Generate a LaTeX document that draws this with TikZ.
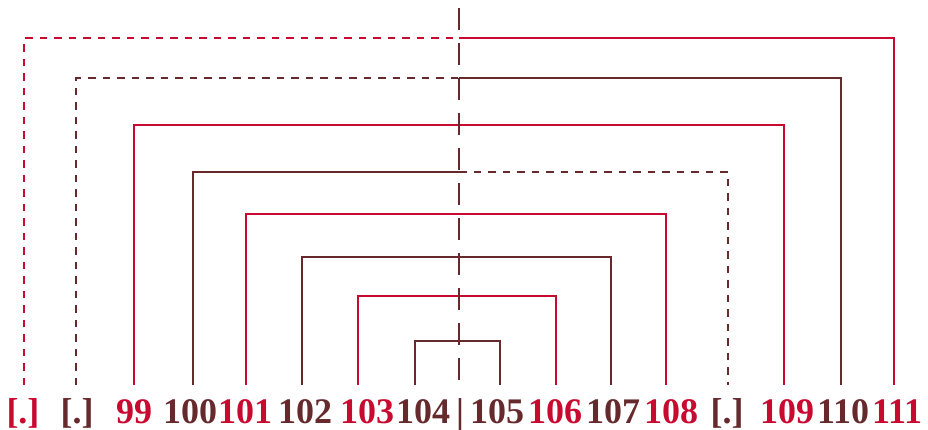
\documentclass[tikz,border=0pt]{standalone}
\usepackage{fontspec}
\setmainfont{Liberation Serif}
\definecolor{crim}{RGB}{200,10,48}
\definecolor{maroon}{RGB}{102,42,44}
\begin{document}
\begin{tikzpicture}[x=1pt,y=-1pt,
  arc/.style={line width=1.8pt, line join=miter, line cap=butt},
  dsh/.style={dash pattern=on 7.5pt off 7pt},
  axis/.style={line width=1.8pt, dash pattern=on 22pt off 13pt},
  lab/.style={font=\bfseries\fontsize{36}{36}\selectfont, anchor=base, inner sep=0pt}]
\useasboundingbox (0,0) rectangle (928,429);

% labels along the baseline
\node[lab, text=crim]   (s1)  at (23,423)  {[.]};
\node[lab, text=maroon] (s2)  at (77,423)  {[.]};
\node[lab, text=crim]   (n99)  at (134,423) {99};
\node[lab, text=maroon] (n100) at (190,423) {100};
\node[lab, text=crim]   (n101) at (245,423) {101};
\node[lab, text=maroon] (n102) at (305,423) {102};
\node[lab, text=crim]   (n103) at (367,423) {103};
\node[lab, text=maroon] (n104) at (423,423) {104};
\node[lab, text=maroon] (bar)  at (460,423) {|};
\node[lab, text=maroon] (n105) at (497,423) {105};
\node[lab, text=crim]   (n106) at (555,423) {106};
\node[lab, text=maroon] (n107) at (613,423) {107};
\node[lab, text=crim]   (n108) at (671,423) {108};
\node[lab, text=maroon] (s3)  at (727,423) {[.]};
\node[lab, text=crim]   (n109) at (787,423) {109};
\node[lab, text=maroon] (n110) at (843,423) {110};
\node[lab, text=crim]   (n111) at (897,423) {111};

% feet of the brackets
\foreach \i/\xl/\xr in {1/24/894, 2/76/841, 3/134/784, 4/193/728,
                        5/246/666, 6/302/611, 7/358/556, 8/415/500} {
  \coordinate (a\i) at (\xl,385);
  \coordinate (b\i) at (\xr,385);
}
% points where each bracket meets the axis
\foreach \i/\y in {1/38, 2/78, 3/125, 4/172, 5/214, 6/257, 7/296, 8/341}
  \coordinate (m\i) at (459,\y);

% nested brackets
\draw[arc, crim, dsh] (a1) |- (m1);
\draw[arc, crim]      (m1) -| (b1);
\draw[arc, maroon, dsh] (a2) |- (m2);
\draw[arc, maroon]      (m2) -| (b2);
\draw[arc, crim]   (a3) |- (m3) -| (b3);
\draw[arc, maroon] (a4) |- (m4);
\draw[arc, maroon, dsh] (m4) -| (b4);
\draw[arc, crim]   (a5) |- (m5) -| (b5);
\draw[arc, maroon] (a6) |- (m6) -| (b6);
\draw[arc, crim]   (a7) |- (m7) -| (b7);
\draw[arc, maroon] (a8) |- (m8) -| (b8);

% central axis
\coordinate (top) at (459,8);
\coordinate (bot) at (459,382);
\draw[axis, maroon] (top) -- (bot);
\end{tikzpicture}
\end{document}
